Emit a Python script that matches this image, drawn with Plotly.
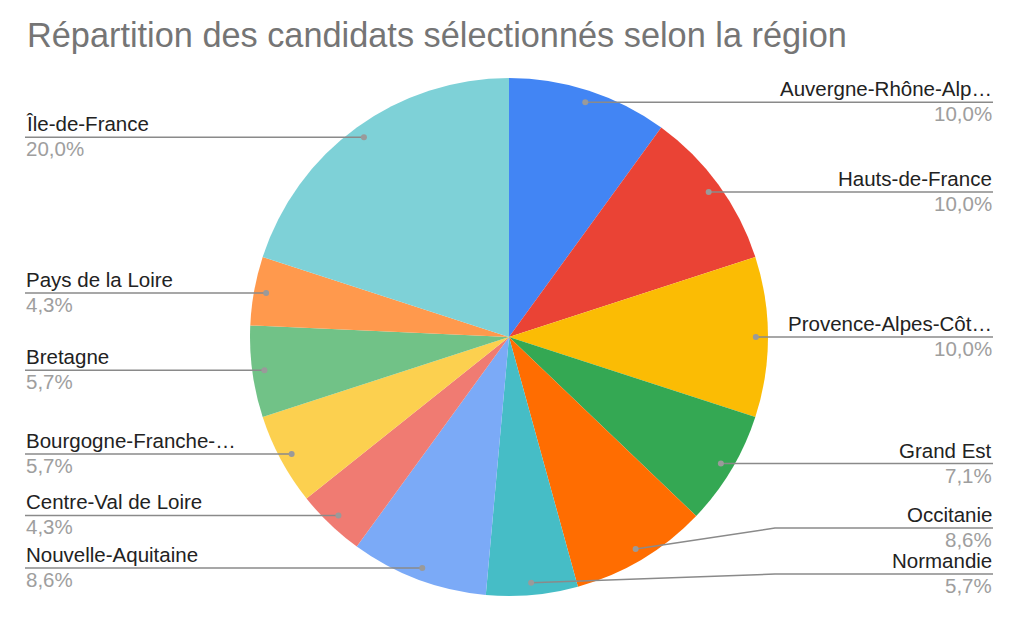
import numpy as np
import plotly.graph_objects as go

# données
labels = ["Auvergne-Rhône-Alp…", "Hauts-de-France", "Provence-Alpes-Côt…", "Grand Est",
          "Occitanie", "Normandie", "Nouvelle-Aquitaine", "Centre-Val de Loire",
          "Bourgogne-Franche-…", "Bretagne", "Pays de la Loire", "Île-de-France"]
counts = [7, 7, 7, 5, 6, 4, 6, 3, 4, 4, 3, 14]
colors = ["#4285F4", "#EA4335", "#FBBC04", "#34A853", "#FF6D01", "#46BDC6",
          "#7BAAF7", "#F07B72", "#FCD04F", "#71C287", "#FF994D", "#7ED1D7"]
title = "Répartition des candidats sélectionnés selon la région"

W, H = 1024, 621
OFF = 8  # marge par défaut du <body>
CX, CY, R = 509, 337, 259
FONT = "Arial, Liberation Sans, Helvetica, sans-serif"

fig = go.Figure()
fig.add_trace(go.Pie(
    labels=labels, values=counts, sort=False, direction="clockwise", rotation=0,
    marker=dict(colors=colors, line=dict(width=0)), textinfo="none",
    hoverinfo="label+percent", showlegend=False,
    domain=dict(x=[(CX - OFF - R) / W, (CX - OFF + R) / W],
                y=[1 - (CY - OFF + R) / H, 1 - (CY - OFF - R) / H]),
))
# axes invisibles en pixels de l'écran pour placer les étiquettes
fig.add_trace(go.Scatter(x=[OFF, W + OFF], y=[OFF, H + OFF], mode="markers",
                         marker=dict(opacity=0), hoverinfo="skip", showlegend=False))

total = sum(counts)
cum = np.cumsum(counts)
mid = (cum - np.array(counts) / 2) / total * 2 * np.pi
rd = R * 0.953
dx = CX + rd * np.sin(mid)
dy = CY - rd * np.cos(mid)
pcts = [f"{c / total * 100:.1f}%".replace(".", ",") for c in counts]

# position verticale des étiquettes (évite les chevauchements)
ly = dy.copy()
gap, ymax = 46, 574
for side in (dx > CX, dx <= CX):
    idx = sorted(np.where(side)[0], key=lambda i: -dy[i])
    prev = None
    for i in idx:
        y = min(dy[i], ymax)
        if prev is not None:
            y = min(y, prev - gap)
        ly[i] = y
        prev = y

shapes, annots = [], []
for i in range(len(labels)):
    right = dx[i] > CX
    edge = 993 if right else 25
    bend = 775 if right else 2 * CX - 775
    if abs(ly[i] - dy[i]) < 0.5:
        path = f"M {dx[i]},{dy[i]} L {edge},{ly[i]}"
    else:
        path = f"M {dx[i]},{dy[i]} L {bend},{ly[i]} L {edge},{ly[i]}"
    shapes.append(dict(type="path", path=path, xref="x", yref="y", layer="above",
                       line=dict(color="#8a8a8a", width=1.5)))
    shapes.append(dict(type="circle", xref="x", yref="y", layer="above",
                       x0=dx[i] - 3, x1=dx[i] + 3, y0=dy[i] - 3, y1=dy[i] + 3,
                       fillcolor="#9a9a9a", line=dict(width=0)))
    xa = "right" if right else "left"
    annots.append(dict(x=edge, y=ly[i], xref="x", yref="y", text=labels[i], showarrow=False,
                       xanchor=xa, yanchor="bottom", yshift=1, borderpad=0,
                       font=dict(size=20.5, color="#222222", family=FONT)))
    annots.append(dict(x=edge, y=ly[i], xref="x", yref="y", text=pcts[i], showarrow=False,
                       xanchor=xa, yanchor="top", yshift=1, borderpad=0,
                       font=dict(size=20.5, color="#9e9e9e", family=FONT)))

fig.update_layout(
    width=W, height=H, margin=dict(l=0, r=0, t=0, b=0),
    paper_bgcolor="white", plot_bgcolor="rgba(0,0,0,0)",
    xaxis=dict(range=[OFF, W + OFF], visible=False, fixedrange=True),
    yaxis=dict(range=[H + OFF, OFF], visible=False, fixedrange=True),
    title=dict(text=title, x=(27 - OFF) / W, xanchor="left", y=1 - (35 - OFF) / H,
               yanchor="middle", font=dict(size=34.3, color="#757575", family=FONT)),
    shapes=shapes, annotations=annots,
)
fig.write_html("out.html")
